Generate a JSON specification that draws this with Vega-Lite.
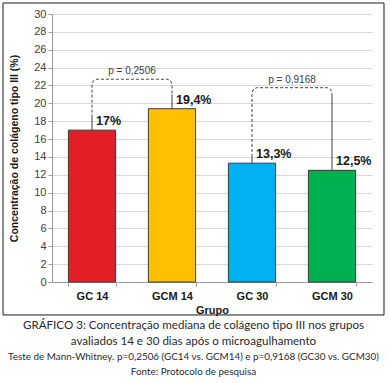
{
  "$schema": "https://vega.github.io/schema/vega-lite/v6.json",
  "autosize": {"type": "none"},
  "width": 320,
  "height": 268,
  "padding": {"left": 52, "top": 14, "right": 18, "bottom": 101},
  "background": "white",
  "config": {
    "view": {"stroke": null},
    "font": "Liberation Sans",
    "axisY": {
      "tickSize": 4, "tickColor": "#9a9a9a", "domainColor": "#9a9a9a",
      "gridColor": "#d9d9d9",
      "labelFont": "Liberation Sans", "labelFontSize": 11, "labelColor": "#404040", "labelPadding": 2,
      "titleFont": "Liberation Sans", "titleFontSize": 10.5, "titleFontWeight": "bold", "titleColor": "#1a1a1a", "titlePadding": 14
    },
    "title": {"font": "Lato", "fontSize": 11.6, "fontWeight": "normal", "color": "#2a2a2a", "lineHeight": 16, "subtitleFont": "Lato", "subtitleFontSize": 9.9, "subtitleColor": "#2a2a2a", "subtitleLineHeight": 15, "subtitlePadding": 4}
  },
  "title": {
    "text": ["GRÁFICO 3: Concentração mediana de colágeno tipo III nos grupos", "avaliados 14 e 30 dias após o microagulhamento"],
    "subtitle": ["Teste de Mann-Whitney. p=0,2506 (GC14 vs. GCM14) e p=0,9168 (GC30 vs. GCM30)", "Fonte: Protocolo de pesquisa"],
    "orient": "bottom",
    "anchor": "middle",
    "frame": "bounds",
    "offset": 5
  },
  "datasets": {
    "barras": [
      {"grupo": "GC 14", "valor": 17, "rotulo": "17%"},
      {"grupo": "GCM 14", "valor": 19.4, "rotulo": "19,4%"},
      {"grupo": "GC 30", "valor": 13.3, "rotulo": "13,3%"},
      {"grupo": "GCM 30", "valor": 12.5, "rotulo": "12,5%"}
    ],
    "tracejado": [
      {"seg": "a", "o": 1, "pos": 0.5, "val": 18.4},
      {"seg": "a", "o": 2, "pos": 0.5, "val": 22.15},
      {"seg": "a", "o": 3, "pos": 0.52, "val": 22.55},
      {"seg": "a", "o": 4, "pos": 0.56, "val": 22.7},
      {"seg": "a", "o": 5, "pos": 1.44, "val": 22.7},
      {"seg": "a", "o": 6, "pos": 1.48, "val": 22.55},
      {"seg": "a", "o": 7, "pos": 1.5, "val": 22.15},
      {"seg": "a", "o": 8, "pos": 1.5, "val": 21.0},
      {"seg": "b", "o": 1, "pos": 2.5, "val": 14.0},
      {"seg": "b", "o": 2, "pos": 2.5, "val": 21.2},
      {"seg": "b", "o": 3, "pos": 2.52, "val": 21.6},
      {"seg": "b", "o": 4, "pos": 2.56, "val": 21.75},
      {"seg": "b", "o": 5, "pos": 3.44, "val": 21.75},
      {"seg": "b", "o": 6, "pos": 3.48, "val": 21.6},
      {"seg": "b", "o": 7, "pos": 3.5, "val": 21.2},
      {"seg": "b", "o": 8, "pos": 3.5, "val": 20.9}
    ],
    "continuo": [
      {"seg": "c", "o": 1, "pos": 0.5, "val": 17},
      {"seg": "c", "o": 2, "pos": 0.5, "val": 18.4},
      {"seg": "d", "o": 1, "pos": 1.5, "val": 21.0},
      {"seg": "d", "o": 2, "pos": 1.5, "val": 19.4},
      {"seg": "e", "o": 1, "pos": 2.5, "val": 13.3},
      {"seg": "e", "o": 2, "pos": 2.5, "val": 14.0},
      {"seg": "f", "o": 1, "pos": 3.5, "val": 20.9},
      {"seg": "f", "o": 2, "pos": 3.5, "val": 12.5}
    ],
    "pvalores": [
      {"pos": 1, "val": 22.7, "txt": "p = 0,2506"},
      {"pos": 3, "val": 21.75, "txt": "p = 0,9168"}
    ],
    "moldura": [
      {"x1": -0.6125, "x2": 4.15, "y1": 31.23, "y2": -3.69}
    ]
  },
  "resolve": {"scale": {"x": "independent"}},
  "layer": [
    {
      "data": {"name": "barras"},
      "encoding": {
        "x": {
          "field": "grupo", "type": "nominal", "sort": null,
          "scale": {"paddingInner": 0.41, "paddingOuter": 0.205},
          "axis": {
            "title": "Grupo", "labelAngle": 0, "tickBand": "extent", "tickSize": 4,
            "tickColor": "#9a9a9a", "domainColor": "#9a9a9a",
            "labelFont": "Liberation Sans", "labelFontSize": 11, "labelFontWeight": "bold", "labelColor": "#1a1a1a", "labelPadding": 4,
            "titleFont": "Liberation Sans", "titleFontSize": 11, "titleFontWeight": "bold", "titleColor": "#1a1a1a", "titlePadding": 3
          }
        },
        "y": {
          "field": "valor", "type": "quantitative",
          "scale": {"domain": [0, 30], "nice": false},
          "axis": {"title": "Concentração de colágeno tipo III (%)", "values": [0, 2, 4, 6, 8, 10, 12, 14, 16, 18, 20, 22, 24, 26, 28, 30], "grid": true}
        }
      },
      "layer": [
        {
          "mark": {"type": "bar", "stroke": "#3a3a3a", "strokeWidth": 1},
          "encoding": {
            "color": {
              "field": "grupo", "type": "nominal",
              "scale": {"domain": ["GC 14", "GCM 14", "GC 30", "GCM 30"], "range": ["#e41e26", "#ffc000", "#00b0f0", "#00b050"]},
              "legend": null
            }
          }
        },
        {
          "mark": {"type": "text", "align": "left", "baseline": "bottom", "dx": 4, "dy": -2, "font": "Liberation Sans", "fontSize": 12.5, "fontWeight": "bold", "color": "#1a1a1a"},
          "encoding": {"text": {"field": "rotulo"}}
        }
      ]
    },
    {
      "layer": [
        {
          "data": {"name": "tracejado"},
          "mark": {"type": "line", "strokeDash": [3, 2], "strokeWidth": 1, "color": "#404040"},
          "encoding": {
            "x": {"field": "pos", "type": "quantitative", "scale": {"domain": [0, 4], "nice": false, "zero": false}, "axis": null},
            "y": {"field": "val", "type": "quantitative", "scale": {"domain": [0, 30], "nice": false}, "axis": {"title": "Concentração de colágeno tipo III (%)", "values": [0, 2, 4, 6, 8, 10, 12, 14, 16, 18, 20, 22, 24, 26, 28, 30], "grid": true}},
            "detail": {"field": "seg"},
            "order": {"field": "o"}
          }
        },
        {
          "data": {"name": "continuo"},
          "mark": {"type": "line", "strokeWidth": 1, "color": "#404040"},
          "encoding": {
            "x": {"field": "pos", "type": "quantitative", "scale": {"domain": [0, 4], "nice": false, "zero": false}, "axis": null},
            "y": {"field": "val", "type": "quantitative", "scale": {"domain": [0, 30], "nice": false}, "axis": {"title": "Concentração de colágeno tipo III (%)", "values": [0, 2, 4, 6, 8, 10, 12, 14, 16, 18, 20, 22, 24, 26, 28, 30], "grid": true}},
            "detail": {"field": "seg"},
            "order": {"field": "o"}
          }
        },
        {
          "data": {"name": "pvalores"},
          "mark": {"type": "text", "baseline": "bottom", "dy": -3, "font": "Liberation Sans", "fontSize": 10, "color": "#404040"},
          "encoding": {
            "x": {"field": "pos", "type": "quantitative", "scale": {"domain": [0, 4], "nice": false, "zero": false}, "axis": null},
            "y": {"field": "val", "type": "quantitative", "scale": {"domain": [0, 30], "nice": false}, "axis": {"title": "Concentração de colágeno tipo III (%)", "values": [0, 2, 4, 6, 8, 10, 12, 14, 16, 18, 20, 22, 24, 26, 28, 30], "grid": true}},
            "text": {"field": "txt"}
          }
        },
        {
          "data": {"name": "moldura"},
          "mark": {"type": "rect", "filled": false, "stroke": "#1a1a1a", "strokeWidth": 1},
          "encoding": {
            "x": {"field": "x1", "type": "quantitative", "scale": {"domain": [0, 4], "nice": false, "zero": false}, "axis": null},
            "x2": {"field": "x2"},
            "y": {"field": "y1", "type": "quantitative", "scale": {"domain": [0, 30], "nice": false}, "axis": {"title": "Concentração de colágeno tipo III (%)", "values": [0, 2, 4, 6, 8, 10, 12, 14, 16, 18, 20, 22, 24, 26, 28, 30], "grid": true}},
            "y2": {"field": "y2"}
          }
        }
      ]
    }
  ]
}
